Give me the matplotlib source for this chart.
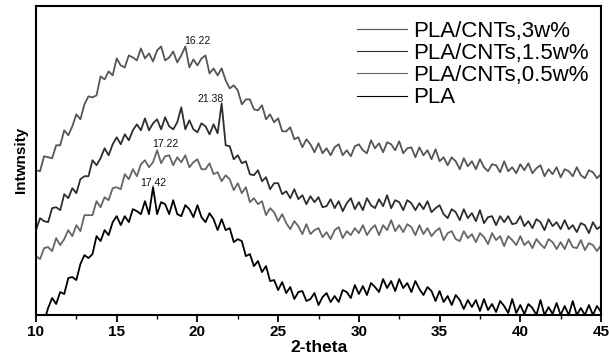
import numpy as np
import matplotlib
matplotlib.use("Agg")
import matplotlib.pyplot as plt
from matplotlib.lines import Line2D

plt.rcParams['font.family'] = ['Liberation Sans', 'DejaVu Sans']

# 2-theta grid (degrees), one reading every 0.25 deg
two_theta = np.linspace(10, 45, 141)

# Intensities (arbitrary units)
pla_cnt_3 = [
    145, 144, 159, 158, 157, 170, 170, 185, 180, 189,
    201, 196, 211, 219, 218, 220, 239, 236, 244, 240,
    257, 250, 248, 260, 258, 255, 267, 257, 262, 254,
    265, 269, 255, 258, 264, 253, 260, 269, 248, 256,
    250, 257, 260, 242, 247, 240, 247, 235, 227, 230,
    225, 211, 216, 216, 206, 205, 210, 196, 201, 193,
    197, 184, 184, 188, 176, 178, 168, 176, 171, 163,
    172, 162, 167, 160, 168, 171, 160, 165, 159, 169,
    171, 165, 162, 175, 167, 172, 163, 173, 171, 165,
    174, 162, 167, 168, 158, 168, 160, 165, 156, 166,
    154, 158, 150, 158, 154, 146, 157, 149, 154, 146,
    156, 148, 144, 151, 150, 143, 154, 144, 148, 142,
    151, 145, 152, 142, 147, 150, 139, 146, 141, 148,
    138, 146, 144, 139, 148, 140, 137, 145, 143, 137,
    141]

pla_cnt_15 = [
    85, 97, 94, 93, 107, 108, 105, 121, 117, 127,
    122, 136, 139, 139, 155, 150, 157, 167, 160, 171,
    178, 171, 181, 175, 185, 191, 185, 197, 185, 192,
    196, 186, 198, 189, 186, 193, 208, 186, 195, 186,
    183, 192, 189, 181, 191, 182, 212, 170, 169, 156,
    160, 152, 154, 141, 140, 145, 134, 138, 126, 132,
    132, 121, 124, 117, 126, 116, 120, 111, 119, 113,
    118, 108, 109, 116, 107, 114, 104, 112, 117, 106,
    113, 105, 117, 110, 107, 116, 109, 120, 107, 115,
    113, 105, 115, 112, 105, 112, 106, 114, 103, 107,
    110, 101, 97, 106, 103, 95, 106, 97, 102, 94,
    105, 92, 98, 99, 90, 99, 93, 99, 91, 92,
    99, 89, 94, 87, 96, 93, 85, 96, 89, 93,
    86, 95, 86, 90, 83, 92, 90, 82, 93, 86,
    89]

pla_cnt_05 = [
    59, 56, 67, 68, 64, 77, 70, 76, 85, 79,
    90, 84, 100, 100, 100, 114, 108, 118, 115, 127,
    128, 126, 141, 136, 146, 139, 151, 155, 148, 153,
    165, 152, 159, 160, 150, 158, 153, 160, 148, 153,
    156, 146, 146, 152, 141, 143, 134, 140, 136, 125,
    132, 122, 128, 113, 117, 111, 114, 100, 107, 103,
    94, 101, 92, 86, 94, 89, 81, 91, 81, 85,
    87, 78, 83, 76, 85, 88, 77, 84, 80, 87,
    82, 90, 80, 86, 90, 80, 90, 85, 95, 84,
    90, 83, 91, 88, 80, 90, 81, 87, 79, 84,
    87, 75, 82, 84, 76, 74, 84, 77, 81, 73,
    82, 78, 71, 82, 75, 79, 69, 79, 75, 70,
    79, 70, 74, 67, 76, 71, 67, 76, 73, 66,
    73, 66, 76, 68, 67, 75, 65, 72, 70, 64,
    70]

pla = [
    -12, 0, -7, 7, 17, 11, 23, 21, 37, 38,
    35, 51, 60, 57, 61, 79, 74, 85, 80, 93,
    99, 90, 99, 93, 106, 104, 101, 114, 101, 128,
    101, 113, 111, 101, 115, 101, 99, 110, 106, 98,
    110, 98, 93, 102, 96, 85, 96, 85, 87, 73,
    76, 74, 59, 61, 49, 54, 43, 49, 34, 35,
    25, 33, 22, 28, 16, 23, 24, 14, 16, 22,
    10, 18, 22, 13, 19, 13, 25, 23, 17, 30,
    21, 29, 20, 32, 28, 23, 36, 27, 34, 24,
    36, 27, 32, 23, 34, 26, 20, 28, 24, 14,
    24, 13, 19, 10, 20, 15, 6, 15, 8, 15,
    4, 16, 5, 11, 3, 14, 9, 2, 16, 2,
    10, 1, 11, 7, 0, 15, 0, 8, 1, 12,
    0, 9, 0, 14, 0, 7, 0, 10, 0, 9,
    3]

series_labels = ["PLA/CNTs,3w%", "PLA/CNTs,1.5w%", "PLA/CNTs,0.5w%", "PLA"]
series_values = [pla_cnt_3, pla_cnt_15, pla_cnt_05, pla]
series_colors = ["#555555", "#2e2e2e", "#666666", "#000000"]

# peak annotations: (text, 2-theta position, intensity position)
peak_texts = ["16.22", "21.38", "17.22", "17.42"]
peak_x = [19.97, 20.8, 18.0, 17.25]
peak_y = [274, 216, 171, 132]

x_ticks = [10, 15, 20, 25, 30, 35, 40, 45]
x_tick_labels = ["10", "15", "20", "25", "30", "35", "40", "45"]

fig = plt.figure(figsize=(6.09, 3.6), dpi=100)
ax = fig.add_axes([0.0591, 0.125, 0.9278, 0.8597])

for vals, col in zip(series_values[::-1], series_colors[::-1]):
    ax.plot(two_theta, vals, color=col, lw=1.3)

for t, px, py in zip(peak_texts, peak_x, peak_y):
    ax.text(px, py, t, fontsize=7.5, ha="center", va="center", color="#111111")

ax.set_xlim(10, 45)
ax.set_ylim(0, 310)
ax.set_xticks(x_ticks, x_tick_labels, fontweight="bold", fontsize=11)
ax.set_xticks(np.arange(12.5, 45, 5), minor=True)
ax.set_yticks([])
ax.tick_params(axis="x", which="major", direction="out", length=5, width=1.3, pad=2)
ax.tick_params(axis="x", which="minor", direction="out", length=3, width=1.0)
for s in ax.spines.values():
    s.set_linewidth(1.5)

ax.set_xlabel("2-theta", fontsize=12.5, fontweight="bold", labelpad=1)
ax.set_ylabel("Intwnsity", fontsize=11, fontweight="bold", labelpad=6)

handles = [Line2D([], [], color=c, lw=0.8) for c in series_colors]
ax.legend(handles, series_labels, loc="upper left", bbox_to_anchor=(0.568, 0.95),
          frameon=False, fontsize=16, handlelength=2.25, handletextpad=0.3,
          labelspacing=0.05, borderpad=0, borderaxespad=0)

fig.savefig("out.png", dpi=100)
